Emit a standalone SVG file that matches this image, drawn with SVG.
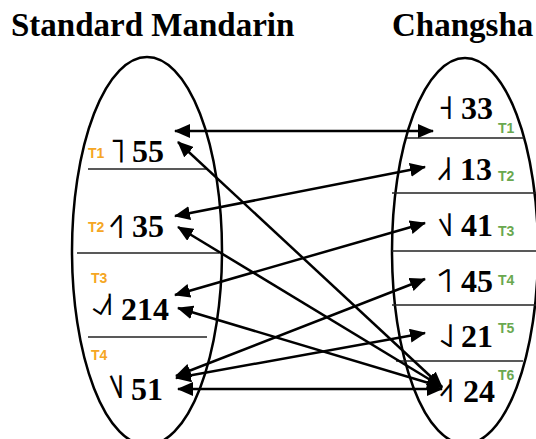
<svg xmlns="http://www.w3.org/2000/svg" width="536" height="439" viewBox="0 0 536 439">
<style>
.title{font-family:"Liberation Serif","Times New Roman",serif;font-weight:bold;font-size:33px;fill:#000}
.num{font-family:"Liberation Serif","Times New Roman",serif;font-weight:bold;font-size:32px;fill:#000}
.tone{font-family:"DejaVu Sans","Noto Sans",sans-serif;font-size:34px;fill:#000;text-anchor:end}
.tl{font-family:"Liberation Sans",Arial,sans-serif;font-weight:bold;font-size:14px;fill:#F5A623}
.tr{font-family:"Liberation Sans",Arial,sans-serif;font-weight:bold;font-size:14px;fill:#6AA84F}
.oval{fill:none;stroke:#000;stroke-width:2.5}
.div{stroke:#222;stroke-width:1.5}
.arr{stroke:#000;stroke-width:2.5;fill:none;marker-start:url(#ah);marker-end:url(#ah)}
</style>
<defs>
<marker id="ah" markerUnits="userSpaceOnUse" viewBox="0 0 16 14" refX="15" refY="7" markerWidth="16" markerHeight="14" orient="auto-start-reverse">
<path d="M0,0 L16,7 L0,14 Z" fill="#000"/>
</marker>
</defs>
<text class="title" x="11" y="36">Standard Mandarin</text>
<text class="title" x="392" y="36">Changsha</text>
<g id="mandarin">
<ellipse class="oval" cx="147" cy="251" rx="75" ry="194"/>
<line class="div" x1="88" y1="169" x2="207" y2="169"/>
<line class="div" x1="77" y1="253" x2="219" y2="253"/>
<line class="div" x1="88" y1="337" x2="207" y2="337"/>
</g>
<g id="sm-t1"><text class="tl" x="88" y="158">T1</text><text class="tone" x="126" y="162">˥</text><text class="num" x="132" y="162">55</text></g>
<g id="sm-t2"><text class="tl" x="88" y="232">T2</text><text class="tone" x="125" y="238">˧˥</text><text class="num" x="132" y="237">35</text></g>
<g id="sm-t3"><text class="tl" x="91" y="283">T3</text><text class="tone" x="114" y="315" style="font-size:32px">˨˩˦</text><text class="num" x="121" y="320">214</text></g>
<g id="sm-t4"><text class="tl" x="91" y="360">T4</text><text class="tone" x="125" y="398">˥˩</text><text class="num" x="131" y="400">51</text></g>
<g id="changsha">
<ellipse class="oval" cx="465" cy="251" rx="73" ry="193"/>
<line class="div" x1="407" y1="138" x2="524" y2="138"/>
<line class="div" x1="392" y1="193" x2="536" y2="193"/>
<line class="div" x1="392" y1="251" x2="536" y2="251"/>
<line class="div" x1="392" y1="305" x2="536" y2="305"/>
<line class="div" x1="396" y1="361" x2="523" y2="361"/>
</g>
<g id="cs-t1"><text class="tone" x="454" y="119">˧</text><text class="num" x="461" y="119">33</text><text class="tr" x="498" y="133">T1</text></g>
<g id="cs-t2"><text class="tone" x="453" y="180">˩˧</text><text class="num" x="460" y="180">13</text><text class="tr" x="498" y="181">T2</text></g>
<g id="cs-t3"><text class="tone" x="454" y="236">˦˩</text><text class="num" x="461" y="236">41</text><text class="tr" x="498" y="236">T3</text></g>
<g id="cs-t4"><text class="tone" x="453" y="292">˦˥</text><text class="num" x="461" y="292">45</text><text class="tr" x="498" y="285">T4</text></g>
<g id="cs-t5"><text class="tone" x="455" y="347">˨˩</text><text class="num" x="461" y="347">21</text><text class="tr" x="498" y="333">T5</text></g>
<g id="cs-t6"><text class="tone" x="455" y="402">˨˦</text><text class="num" x="463" y="402">24</text><text class="tr" x="498" y="380">T6</text></g>
<g id="connectors">
<line class="arr" x1="175" y1="131" x2="433" y2="131"/>
<line class="arr" x1="178" y1="142" x2="442" y2="387"/>
<line class="arr" x1="175" y1="216" x2="425" y2="167"/>
<line class="arr" x1="178" y1="227" x2="442" y2="387"/>
<line class="arr" x1="175" y1="295" x2="425" y2="223"/>
<line class="arr" x1="178" y1="308" x2="442" y2="387"/>
<line class="arr" x1="176" y1="376" x2="425" y2="279"/>
<line class="arr" x1="176" y1="378" x2="425" y2="333"/>
<line class="arr" x1="178" y1="389" x2="442" y2="389"/>
</g>
</svg>
